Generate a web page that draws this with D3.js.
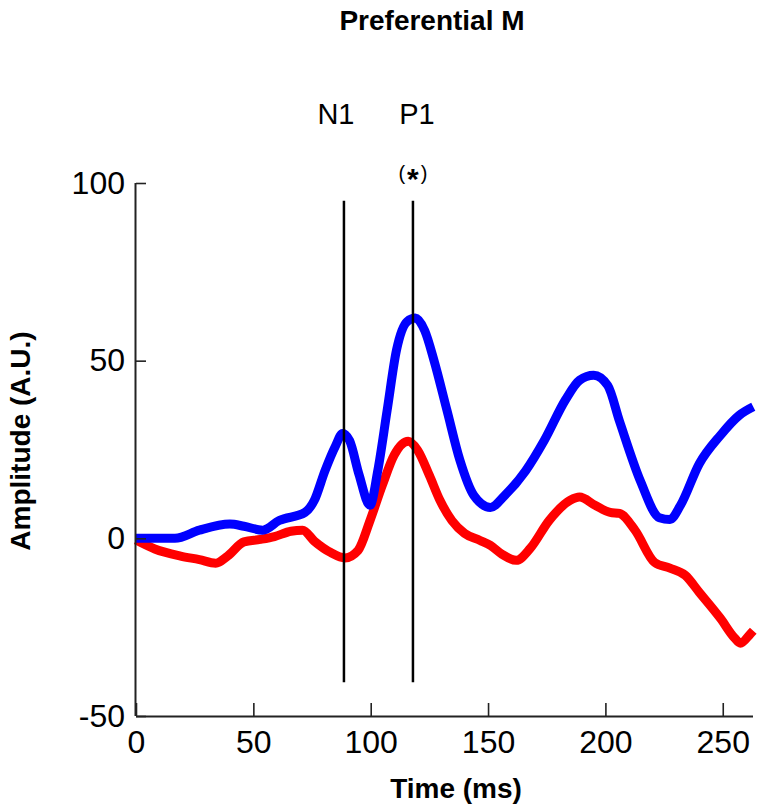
<!DOCTYPE html>
<html>
<head>
<meta charset="utf-8">
<script src="https://cdn.jsdelivr.net/npm/d3@7"></script>
<style>
  html, body { margin: 0; padding: 0; background: #fff; }
  svg { display: block; }
  text { font-family: Arial, "Liberation Sans", Helvetica, sans-serif; }
</style>
</head>
<body>
<svg id="chart" width="763" height="812"></svg>
<script>
// ---- data ----
const title = "Preferential M";
const xLabel = "Time (ms)";
const yLabel = "Amplitude (A.U.)";
const xTicks = [0, 50, 100, 150, 200, 250];
const yTicks = [-50, 0, 50, 100];
const markers = [{label: "N1", x: 88.6, note: ""}, {label: "P1", x: 118, note: "(*)"}];
const markerRange = [-40.5, 95];

const blueT = [0, 16.6, 27, 40, 46, 54, 61, 72, 76, 80.5, 85, 88, 91, 95, 99.7, 103, 107, 111, 115.5, 119, 123, 127, 132.5, 138, 144, 151, 157, 166, 174, 183, 189, 195, 201, 206, 215, 223, 227.5, 232, 240, 249, 257, 263];
const blueV = [0, 0, 2.3, 4, 3.4, 2.3, 5, 7.3, 10.7, 19, 26, 29.5, 27.5, 18, 9.3, 19, 36, 53, 61, 62, 58.5, 50, 36, 22, 12, 8.7, 12, 19, 27.6, 39, 44.5, 45.9, 43, 33, 16, 5.8, 5.3, 9.3, 21, 29, 34.6, 37];

const redT = [0, 8, 19, 27, 34, 39, 46, 53, 59, 66, 71, 76, 83, 89, 94.6, 99.7, 105, 110, 116, 120, 125, 129.5, 134.6, 140, 146.6, 151, 156, 162, 168, 176, 185, 189, 195.6, 202, 206, 212.6, 221, 227.5, 234, 240, 249, 255, 257.5, 261.6, 263];
const redV = [-0.5, -3, -5, -6, -7, -5, -1, -0.3, 0.5, 2, 2.3, -0.8, -4, -5.5, -3.4, 5, 15, 23.4, 27.3, 24.8, 17.7, 10.7, 5, 1.4, -0.6, -2, -4.5, -6.2, -2.8, 5, 10.7, 11.6, 9.3, 7.3, 7, 2.3, -6.8, -8.4, -10.4, -15.2, -22.5, -28, -29.5, -27, -26];

// ---- layout ----
const svg = d3.select("#chart");
const x0 = 136, x1 = 753, yTop = 183, yBot = 716;
const x = d3.scaleLinear().domain([0, 263]).range([x0, x0 + 263 * 2.347]);
const y = d3.scaleLinear().domain([-50, 100]).range([yBot, yTop]);

// title
svg.append("text").attr("x", 432).attr("y", 30).attr("text-anchor", "middle")
  .attr("font-size", 28).attr("font-weight", "bold").text(title);

// lines
const line = d3.line().x(d => x(d[0])).y(d => y(d[1])).curve(d3.curveMonotoneX);
const blue = blueT.map((t, i) => [t, blueV[i]]);
const red = redT.map((t, i) => [t, redV[i]]);

svg.append("path").datum(red).attr("d", line).attr("fill", "none")
  .attr("stroke", "#ff0000").attr("stroke-width", 9).attr("stroke-linejoin", "round");
svg.append("path").datum(blue).attr("d", line).attr("fill", "none")
  .attr("stroke", "#0000ff").attr("stroke-width", 9).attr("stroke-linejoin", "round");

// marker lines
markers.forEach(m => {
  svg.append("line").attr("x1", x(m.x)).attr("x2", x(m.x))
    .attr("y1", y(markerRange[1])).attr("y2", y(markerRange[0]))
    .attr("stroke", "#000").attr("stroke-width", 2.5);
  svg.append("text").attr("x", x(m.x) - 8 + (m.label === "P1" ? 12 : 0)).attr("y", 124)
    .attr("text-anchor", "middle").attr("font-size", 29).text(m.label);
  if (m.note) {
    const t = svg.append("text").attr("x", x(m.x)).attr("y", 180)
      .attr("text-anchor", "middle").attr("font-size", 20);
    t.append("tspan").text("(");
    t.append("tspan").attr("font-size", 30).attr("font-weight", "bold").attr("dy", 9).attr("dx", 2).text("*");
    t.append("tspan").attr("dy", -9).attr("dx", 2).text(")");
  }
});

// axes
const fmt = d => String(d);
const xAxis = d3.axisBottom(x).tickValues(xTicks).tickFormat(fmt).tickSize(-13).tickPadding(14).tickSizeOuter(0);
const gx = svg.append("g").attr("transform", `translate(0,${yBot})`).call(xAxis);
gx.select(".domain").attr("d", `M${x0},0.5H${x1}`).attr("stroke", "#222").attr("stroke-width", 2);
gx.selectAll(".tick line").attr("stroke", "#222").attr("stroke-width", 1.6);
gx.selectAll(".tick text").attr("font-size", 32).attr("fill", "#000")
  .attr("font-family", "Arial, 'Liberation Sans', sans-serif");

const yAxis = d3.axisLeft(y).tickValues(yTicks).tickFormat(fmt).tickSize(-10).tickPadding(11).tickSizeOuter(0);
const gy = svg.append("g").attr("transform", `translate(${x0},0)`).call(yAxis);
gy.select(".domain").attr("d", `M-0.5,${yTop}V${yBot}`).attr("stroke", "#222").attr("stroke-width", 2);
gy.selectAll(".tick line").attr("stroke", "#222").attr("stroke-width", 1.6);
gy.selectAll(".tick text").attr("font-size", 32).attr("fill", "#000")
  .attr("font-family", "Arial, 'Liberation Sans', sans-serif");

// axis labels
svg.append("text").attr("x", 456).attr("y", 798).attr("text-anchor", "middle")
  .attr("font-size", 28).attr("font-weight", "bold").text(xLabel);
svg.append("text").attr("transform", "translate(30,441) rotate(-90)").attr("text-anchor", "middle")
  .attr("font-size", 28).attr("font-weight", "bold").text(yLabel);
</script>
</body>
</html>
